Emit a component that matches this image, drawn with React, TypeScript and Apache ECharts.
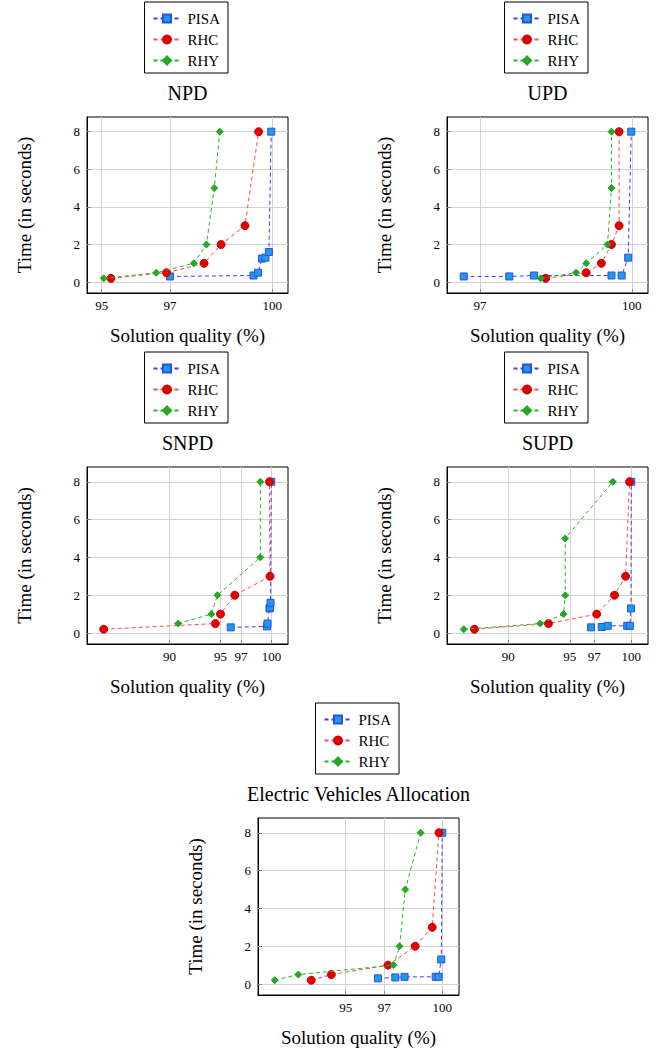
import React, { useEffect, useRef } from "react";
import * as echarts from "echarts";

const SERIES_NAMES = ["PISA", "RHC", "RHY"];
const Y_TICKS = [0, 2, 4, 6, 8];

const PANEL_TITLES = ["NPD", "UPD", "SNPD", "SUPD", "Electric Vehicles Allocation"];
const X_TICKS_NPD = [95, 97, 100];
const X_TICKS_UPD = [97, 100];
const X_TICKS_SNPD = [90, 95, 97, 100];
const X_TICKS_SUPD = [90, 95, 97, 100];
const X_TICKS_EV = [95, 97, 100];

const NPD_PISA = [[97.0, 0.3], [99.45, 0.35], [99.58, 0.5], [99.7, 1.25], [99.8, 1.3], [99.9, 1.6], [99.97, 8]];
const NPD_RHC = [[95.27, 0.2], [96.9, 0.5], [98.0, 1], [98.5, 2], [99.2, 3], [99.6, 8]];
const NPD_RHY = [[95.06, 0.2], [96.6, 0.5], [97.7, 1], [98.07, 2], [98.3, 5], [98.46, 8]];

const UPD_PISA = [[96.68, 0.3], [97.58, 0.3], [98.07, 0.35], [99.6, 0.35], [99.8, 0.35], [99.93, 1.3], [99.99, 8]];
const UPD_RHC = [[98.3, 0.2], [99.1, 0.5], [99.4, 1], [99.6, 2], [99.75, 3], [99.75, 8]];
const UPD_RHY = [[98.2, 0.2], [98.9, 0.5], [99.1, 1], [99.52, 2], [99.6, 5], [99.6, 8]];

const SNPD_PISA = [[96.0, 0.3], [99.55, 0.35], [99.6, 0.5], [99.8, 1.3], [99.85, 1.35], [99.9, 1.6], [99.97, 8]];
const SNPD_RHC = [[83.56, 0.2], [94.5, 0.5], [95.0, 1], [96.4, 2], [99.85, 3], [99.8, 8]];
const SNPD_RHY = [[90.85, 0.5], [94.1, 1], [94.7, 2], [98.9, 4], [98.9, 8]];

const SUPD_PISA = [[96.73, 0.3], [97.6, 0.32], [98.09, 0.38], [99.67, 0.38], [99.89, 0.38], [99.98, 1.3], [100.0, 8]];
const SUPD_RHC = [[87.25, 0.2], [93.27, 0.5], [97.19, 1], [98.64, 2], [99.54, 3], [99.86, 8]];
const SUPD_RHY = [[86.38, 0.2], [92.6, 0.5], [94.5, 1], [94.63, 2], [94.63, 5], [98.5, 8]];

const EV_PISA = [[96.67, 0.3], [97.57, 0.35], [98.05, 0.38], [99.66, 0.38], [99.81, 0.38], [99.95, 1.3], [100.0, 8]];
const EV_RHC = [[93.22, 0.2], [94.26, 0.5], [97.19, 1], [98.6, 2], [99.48, 3], [99.83, 8]];
const EV_RHY = [[91.33, 0.2], [92.55, 0.5], [97.48, 1], [97.79, 2], [98.09, 5], [98.88, 8]];

const PANEL_DATA = [
  [NPD_PISA, NPD_RHC, NPD_RHY],
  [UPD_PISA, UPD_RHC, UPD_RHY],
  [SNPD_PISA, SNPD_RHC, SNPD_RHY],
  [SUPD_PISA, SUPD_RHC, SUPD_RHY],
  [EV_PISA, EV_RHC, EV_RHY],
];
const PANEL_XTICKS = [X_TICKS_NPD, X_TICKS_UPD, X_TICKS_SNPD, X_TICKS_SUPD, X_TICKS_EV];

// layout (pixels)
const LAYOUT = [
  { left: 87, top: 117, width: 201, height: 176 },
  { left: 447, top: 117, width: 201, height: 176 },
  { left: 87, top: 467, width: 201, height: 177 },
  { left: 447, top: 467, width: 201, height: 177 },
  { left: 258, top: 818, width: 201, height: 177 },
];
const LEGEND_TOPS = [2, 2, 352, 352, 703];
const TITLE_Y = [93, 93, 443, 443, 794];

const FONT = "'Liberation Serif', 'Times New Roman', Times, serif";

const STYLES = [
  { symbol: "rect", size: 7, line: "#3b3bff", fill: "#1e9be8", border: "#2b4fe6" },
  { symbol: "circle", size: 8, line: "#ff4a4a", fill: "#e00000", border: "#d00000" },
  { symbol: "diamond", size: 7, line: "#2fb52f", fill: "#22aa22", border: "#22aa22" },
];

function enlarge(arrs: number[][][], idx: number) {
  let lo = Infinity;
  let hi = -Infinity;
  arrs.forEach((a) => a.forEach((p) => { lo = Math.min(lo, p[idx]); hi = Math.max(hi, p[idx]); }));
  const r = hi - lo;
  return [lo - 0.1 * r, hi + 0.1 * r];
}

function buildOption() {
  const grid: any[] = [];
  const xAxis: any[] = [];
  const yAxis: any[] = [];
  const series: any[] = [];
  const legend: any[] = [];
  const graphic: any[] = [];

  PANEL_DATA.forEach((sets, i) => {
    const L = LAYOUT[i];
    grid.push({ left: L.left, top: L.top, width: L.width, height: L.height, show: true, borderColor: "#000", borderWidth: 1, backgroundColor: "transparent" });
    const [xmin, xmax] = enlarge(sets, 0);
    const [ymin, ymax] = enlarge(sets, 1);
    xAxis.push({
      type: "value", gridIndex: i, min: xmin, max: xmax,
      axisLine: { show: true, onZero: false, lineStyle: { color: "#000", width: 1 } },
      axisTick: { show: true, inside: true, length: 4, customValues: PANEL_XTICKS[i], lineStyle: { color: "#888" } },
      axisLabel: { customValues: PANEL_XTICKS[i], color: "#000", fontFamily: FONT, fontSize: 13, margin: 6 },
      splitLine: { show: true, lineStyle: { color: "#d2d2d2", width: 1 } },
    });
    yAxis.push({
      type: "value", gridIndex: i, min: ymin, max: ymax,
      axisLine: { show: true, onZero: false, lineStyle: { color: "#000", width: 1 } },
      axisTick: { show: true, inside: true, length: 4, customValues: Y_TICKS, lineStyle: { color: "#888" } },
      axisLabel: { customValues: Y_TICKS, color: "#000", fontFamily: FONT, fontSize: 13, margin: 7 },
      splitLine: { show: true, lineStyle: { color: "#d2d2d2", width: 1 } },
    });
    sets.forEach((data, k) => {
      const s = STYLES[k];
      series.push({
        type: "line", name: SERIES_NAMES[k], xAxisIndex: i, yAxisIndex: i, data,
        symbol: s.symbol, symbolSize: s.size, showSymbol: true, showAllSymbol: true,
        lineStyle: { color: s.line, width: 1, type: [4, 3] },
        itemStyle: { color: s.fill, borderColor: s.border, borderWidth: 1 },
        z: 2 + k,
      });
    });
    const cx = L.left + L.width / 2;
    legend.push({
      data: SERIES_NAMES, orient: "vertical", left: cx - 43, top: LEGEND_TOPS[i],
      borderColor: "#000", borderWidth: 1, padding: [9, 8, 5, 8], itemWidth: 27, itemHeight: 10, itemGap: 6,
      selectedMode: false, textStyle: { fontFamily: FONT, fontSize: 15, color: "#000", padding: [0, 0, 0, 2] },
    });
    graphic.push({ type: "text", x: cx, y: TITLE_Y[i], style: { text: PANEL_TITLES[i], font: `20px ${FONT}`, fill: "#000", textAlign: "center", textVerticalAlign: "middle" } });
    graphic.push({ type: "text", x: L.left - 63, y: L.top + L.height / 2, rotation: Math.PI / 2, style: { text: "Time (in seconds)", font: `19px ${FONT}`, fill: "#000", textAlign: "center", textVerticalAlign: "middle" } });
    graphic.push({ type: "text", x: cx, y: L.top + L.height + 42, style: { text: "Solution quality (%)", font: `19px ${FONT}`, fill: "#000", textAlign: "center", textVerticalAlign: "middle" } });
  });

  return { animation: false, backgroundColor: "#fff", grid, xAxis, yAxis, series, legend, graphic };
}

export default function App() {
  const ref = useRef<HTMLDivElement>(null);
  useEffect(() => {
    if (!ref.current) return;
    const chart = echarts.init(ref.current, null, { renderer: "svg" });
    chart.setOption(buildOption());
    return () => chart.dispose();
  }, []);
  return <div ref={ref} style={{ position: "fixed", left: 0, top: 0, width: 663, height: 1049 }} />;
}
